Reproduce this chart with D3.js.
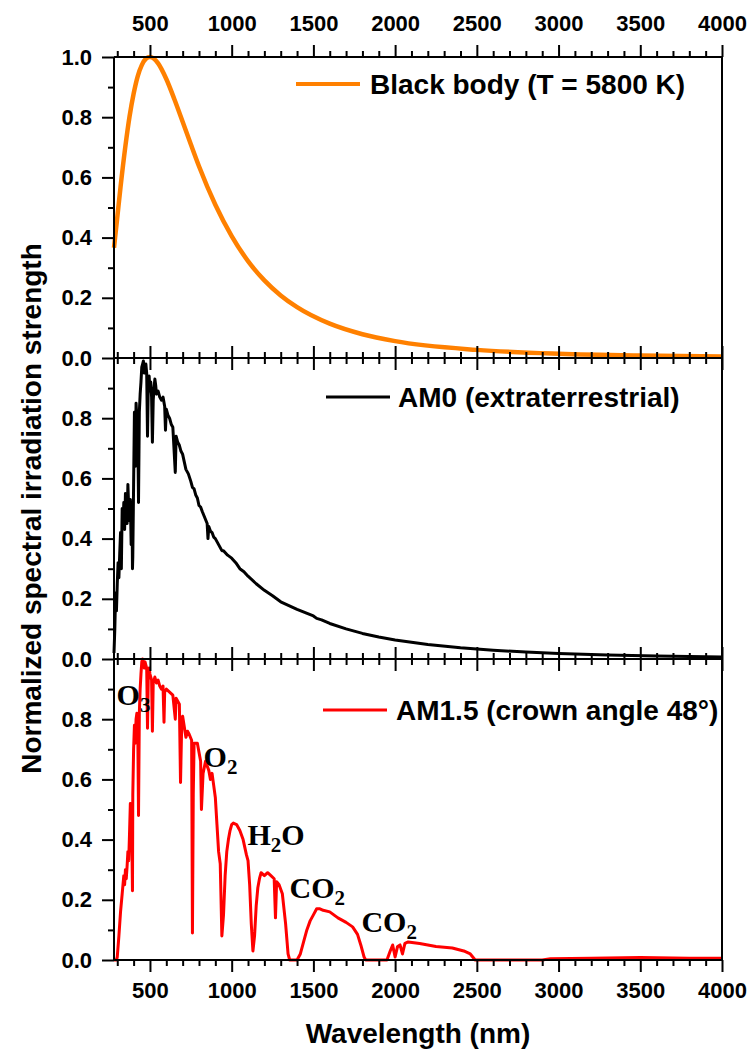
<!DOCTYPE html>
<html>
<head>
<meta charset="utf-8">
<script src="https://cdn.jsdelivr.net/npm/d3@7"></script>
<style>
  body { margin: 0; background: #fff; }
  svg text { font-family: "Liberation Sans", Arial, sans-serif; font-weight: bold; fill: #000; }
</style>
</head>
<body>
<script>
// Black body curve (T = 5800 K), normalized
const bbNm  = [280, 300, 320, 350, 375, 400, 425, 450, 475, 500, 550, 600, 650, 700, 750, 800, 900, 1000, 1100, 1200, 1300, 1400, 1600, 1800, 2000, 2500, 3000, 3500, 4000];
const bbVal = [0.366, 0.467, 0.568, 0.705, 0.802, 0.878, 0.936, 0.973, 0.994, 1.0, 0.979, 0.927, 0.859, 0.785, 0.710, 0.637, 0.509, 0.405, 0.322, 0.258, 0.208, 0.169, 0.114, 0.079, 0.056, 0.027, 0.014, 0.008, 0.005];

// AM0 extraterrestrial spectrum, normalized
const am0Nm  = [280, 285, 290, 295, 300, 305, 310, 315, 320, 325, 330, 335, 340, 345, 350, 355, 360, 365, 370, 375, 380, 385, 390, 393, 395, 400, 405, 410, 415, 420, 425, 430, 435, 440, 445, 450, 455, 460, 465, 470, 475, 480, 485, 490, 495, 500, 505, 510, 515, 520, 525, 530, 535, 540, 550, 560, 570, 580, 590, 595, 600, 610, 620, 630, 640, 655, 660, 670, 680, 690, 700, 710, 720, 735, 750, 760, 770, 780, 790, 800, 810, 820, 835, 850, 855, 860, 870, 880, 890, 900, 915, 930, 940, 950, 975, 1000, 1025, 1050, 1075, 1100, 1150, 1200, 1250, 1300, 1400, 1500, 1520, 1550, 1600, 1700, 1800, 1900, 2000, 2200, 2400, 2600, 2800, 3000, 3300, 3600, 4000];
const am0Val = [0.02, 0.10, 0.22, 0.16, 0.25, 0.32, 0.27, 0.35, 0.42, 0.30, 0.50, 0.44, 0.52, 0.43, 0.55, 0.47, 0.45, 0.58, 0.50, 0.46, 0.53, 0.38, 0.52, 0.30, 0.34, 0.58, 0.82, 0.64, 0.85, 0.80, 0.78, 0.52, 0.82, 0.88, 0.92, 0.97, 0.98, 0.99, 0.95, 0.97, 0.98, 0.95, 0.74, 0.92, 0.94, 0.89, 0.92, 0.87, 0.72, 0.86, 0.90, 0.93, 0.91, 0.88, 0.89, 0.87, 0.86, 0.87, 0.84, 0.76, 0.83, 0.81, 0.80, 0.78, 0.77, 0.62, 0.74, 0.72, 0.71, 0.69, 0.68, 0.655, 0.63, 0.615, 0.59, 0.57, 0.565, 0.545, 0.535, 0.51, 0.505, 0.49, 0.47, 0.45, 0.40, 0.44, 0.425, 0.42, 0.405, 0.40, 0.385, 0.37, 0.36, 0.36, 0.345, 0.335, 0.32, 0.30, 0.29, 0.275, 0.25, 0.228, 0.21, 0.19, 0.165, 0.143, 0.135, 0.13, 0.118, 0.10, 0.085, 0.073, 0.063, 0.048, 0.037, 0.029, 0.023, 0.018, 0.013, 0.010, 0.007];

// AM1.5 spectrum, normalized
const am15Nm  = [280, 295, 300, 310, 320, 330, 340, 345, 350, 355, 360, 365, 370, 375, 380, 385, 390, 393, 395, 400, 405, 410, 415, 420, 425, 430, 435, 440, 445, 450, 455, 460, 465, 470, 475, 480, 485, 490, 495, 500, 510, 515, 520, 530, 540, 550, 560, 570, 580, 586, 590, 600, 620, 640, 655, 660, 680, 687, 695, 700, 720, 730, 740, 755, 760, 765, 770, 790, 810, 815, 825, 840, 860, 870, 880, 890, 900, 910, 920, 930, 940, 950, 960, 970, 980, 990, 1000, 1010, 1030, 1050, 1070, 1090, 1100, 1110, 1120, 1130, 1140, 1150, 1160, 1170, 1180, 1200, 1220, 1240, 1260, 1268, 1275, 1290, 1310, 1330, 1345, 1355, 1400, 1420, 1440, 1460, 1480, 1500, 1520, 1540, 1560, 1600, 1650, 1700, 1740, 1770, 1790, 1810, 1820, 1950, 1970, 1985, 2000, 2015, 2030, 2045, 2060, 2080, 2150, 2250, 2350, 2420, 2460, 2490, 2900, 2950, 3200, 3500, 3800, 4000];
const am15Val = [0, 0, 0.01, 0.08, 0.16, 0.22, 0.28, 0.25, 0.30, 0.27, 0.31, 0.36, 0.33, 0.42, 0.52, 0.48, 0.36, 0.23, 0.55, 0.70, 0.78, 0.72, 0.80, 0.82, 0.80, 0.48, 0.82, 0.90, 0.95, 0.99, 1.0, 0.99, 0.97, 0.99, 0.98, 0.97, 0.77, 0.95, 0.97, 0.95, 0.93, 0.76, 0.92, 0.94, 0.92, 0.93, 0.91, 0.90, 0.91, 0.79, 0.89, 0.90, 0.89, 0.88, 0.80, 0.87, 0.85, 0.59, 0.80, 0.81, 0.74, 0.76, 0.75, 0.73, 0.09, 0.55, 0.72, 0.72, 0.66, 0.50, 0.62, 0.66, 0.63, 0.60, 0.62, 0.58, 0.54, 0.45, 0.36, 0.32, 0.08, 0.15, 0.28, 0.36, 0.40, 0.43, 0.45, 0.455, 0.45, 0.43, 0.40, 0.35, 0.33, 0.25, 0.12, 0.03, 0.08, 0.18, 0.24, 0.27, 0.29, 0.28, 0.29, 0.28, 0.27, 0.14, 0.26, 0.25, 0.22, 0.12, 0.02, 0, 0, 0.02, 0.06, 0.10, 0.13, 0.15, 0.17, 0.17, 0.165, 0.16, 0.14, 0.125, 0.11, 0.085, 0.05, 0.01, 0, 0, 0.03, 0.05, 0.01, 0.045, 0.05, 0.02, 0.055, 0.06, 0.055, 0.045, 0.04, 0.03, 0.02, 0, 0, 0.004, 0.006, 0.008, 0.006, 0.006];

const xMajor = [500, 1000, 1500, 2000, 2500, 3000, 3500, 4000];
const xMinor = d3.range(300, 4001, 100);
const yMajor = [0, 0.2, 0.4, 0.6, 0.8, 1.0];
const yMinor = [0.1, 0.3, 0.5, 0.7, 0.9];

const legendLabels = ["Black body (T = 5800 K)", "AM0 (extraterrestrial)", "AM1.5 (crown angle 48°)"];
const seriesColors = ["#ff8000", "#000000", "#ff0000"];

// absorption labels: [main, sub, trailing, wavelength, value]
const absorbers = [
    ["O", "3", "", 296, 0.847],
    ["O", "2", "", 828, 0.641],
    ["H", "2", "O", 1097, 0.382],
    ["CO", "2", "", 1354, 0.206],
    ["CO", "2", "", 1794, 0.093]
];

const W = 750, H = 1053;
const top0 = 57, panelH = 301;
const left = 114, right = 722;

const svg = d3.select("body").append("svg")
    .attr("width", W)
    .attr("height", H);

const x = d3.scaleLinear().domain([280, 4000]).range([left, right]);
const yScales = [0, 1, 2].map(i => d3.scaleLinear().domain([0, 1]).range([top0 + panelH * (i + 1), top0 + panelH * i]));

function styleAxis(g, fs) {
    g.select(".domain").remove();
    g.selectAll("line").attr("stroke", "#000").attr("stroke-width", 2);
    g.selectAll("text").attr("font-size", fs).attr("font-family", null);
    g.attr("font-family", null).attr("font-size", null);
}

// curves
const datasets = [
    d3.zip(bbNm, bbVal),
    d3.zip(am0Nm, am0Val),
    d3.zip(am15Nm, am15Val)
];
const widths = [4.5, 3, 3];

datasets.forEach((data, i) => {
    const y = yScales[i];
    const line = d3.line()
        .x(d => x(d[0]))
        .y(d => y(d[1]))
        .curve(i === 0 ? d3.curveMonotoneX : d3.curveLinear);
    svg.append("path")
        .datum(data)
        .attr("fill", "none")
        .attr("stroke", seriesColors[i])
        .attr("stroke-width", widths[i])
        .attr("stroke-linejoin", "round")
        .attr("d", line);
});

// axes per panel
yScales.forEach((y, i) => {
    const yTop = top0 + panelH * i, yBot = yTop + panelH;

    // left axis
    svg.append("g").attr("transform", `translate(${left},0)`)
        .call(d3.axisLeft(y).tickValues(i === 0 ? yMajor : yMajor.slice(0, 5))
            .tickFormat(d3.format(".1f")).tickSize(12).tickPadding(10))
        .call(g => styleAxis(g, 22));
    svg.append("g").attr("transform", `translate(${left},0)`)
        .call(d3.axisLeft(y).tickValues(yMinor).tickFormat("").tickSize(6))
        .call(g => styleAxis(g, 22));

    // top axis of the panel (ticks outward)
    svg.append("g").attr("transform", `translate(0,${yTop})`)
        .call(d3.axisTop(x).tickValues(xMajor).tickSize(12).tickPadding(14)
            .tickFormat(i === 0 ? d3.format("d") : ""))
        .call(g => styleAxis(g, 22));
    svg.append("g").attr("transform", `translate(0,${yTop})`)
        .call(d3.axisTop(x).tickValues(xMinor.filter(v => v % 500)).tickSize(6).tickFormat(""))
        .call(g => styleAxis(g, 22));

    // bottom axis of the panel
    svg.append("g").attr("transform", `translate(0,${yBot})`)
        .call(d3.axisBottom(x).tickValues(xMajor).tickSize(12).tickPadding(10)
            .tickFormat(i === 2 ? d3.format("d") : ""))
        .call(g => styleAxis(g, 22));
    svg.append("g").attr("transform", `translate(0,${yBot})`)
        .call(d3.axisBottom(x).tickValues(xMinor.filter(v => v % 500)).tickSize(6).tickFormat(""))
        .call(g => styleAxis(g, 22));

    // frame lines
    svg.append("line").attr("x1", left).attr("x2", right).attr("y1", yTop).attr("y2", yTop)
        .attr("stroke", "#000").attr("stroke-width", 2);
    svg.append("line").attr("x1", left).attr("x2", right).attr("y1", yBot).attr("y2", yBot)
        .attr("stroke", "#000").attr("stroke-width", 2);
});

svg.append("line").attr("x1", left).attr("x2", left).attr("y1", top0).attr("y2", top0 + 3 * panelH)
    .attr("stroke", "#000").attr("stroke-width", 2);
svg.append("line").attr("x1", right).attr("x2", right).attr("y1", top0).attr("y2", top0 + 3 * panelH)
    .attr("stroke", "#000").attr("stroke-width", 2);

// legends
const legendPos = [
    {lx: 296, tx: 370, y: 84},
    {lx: 326, tx: 398, y: 397},
    {lx: 323, tx: 396, y: 710}
];
legendLabels.forEach((lab, i) => {
    const p = legendPos[i];
    svg.append("line")
        .attr("x1", p.lx).attr("x2", p.lx + 64)
        .attr("y1", p.y).attr("y2", p.y)
        .attr("stroke", seriesColors[i])
        .attr("stroke-width", i === 0 ? 4 : 3);
    svg.append("text")
        .attr("x", p.tx).attr("y", p.y + 10)
        .attr("font-size", 28)
        .text(lab);
});

// absorption band labels
absorbers.forEach(a => {
    const t = svg.append("text")
        .attr("x", x(a[3])).attr("y", yScales[2](a[4]))
        .style("font-family", "'Liberation Serif', 'Times New Roman', serif")
        .attr("font-size", 30);
    t.append("tspan").text(a[0]);
    t.append("tspan").attr("dy", 7).attr("font-size", 21).text(a[1]);
    if (a[2]) t.append("tspan").attr("dy", -7).text(a[2]);
});

// axis titles
svg.append("text")
    .attr("transform", `translate(41,${top0 + 1.5 * panelH}) rotate(-90)`)
    .attr("text-anchor", "middle")
    .attr("font-size", 28)
    .text("Normalized spectral irradiation strength");

svg.append("text")
    .attr("x", (left + right) / 2)
    .attr("y", 1043)
    .attr("text-anchor", "middle")
    .attr("font-size", 28)
    .text("Wavelength (nm)");
</script>
</body>
</html>
